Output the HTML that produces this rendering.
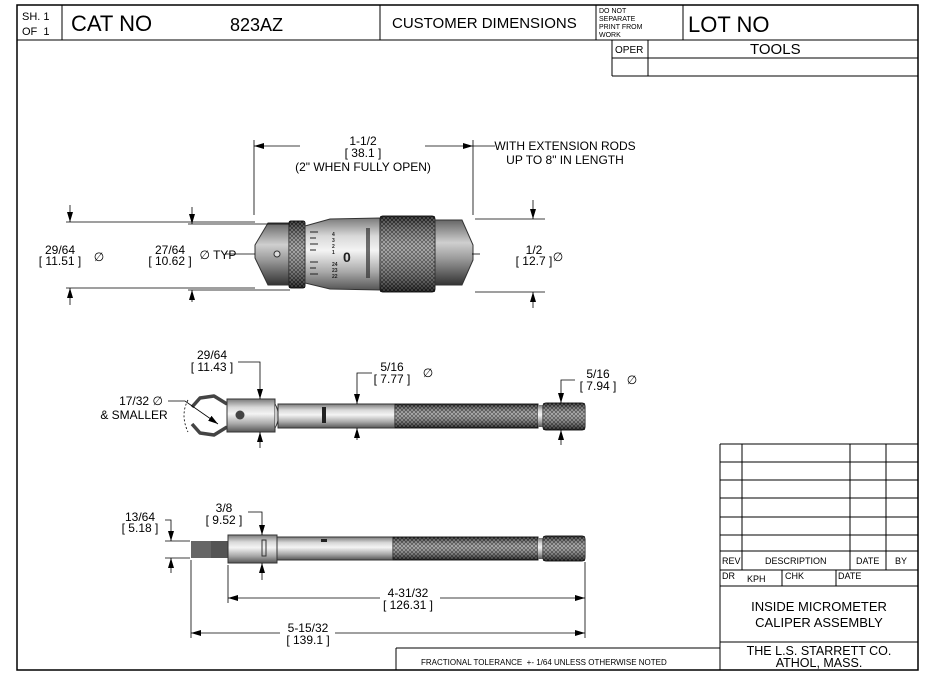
<!DOCTYPE html>
<html><head><meta charset="utf-8"><style>
html,body{margin:0;padding:0;background:#fff;}
svg{display:block;font-family:"Liberation Sans",sans-serif;}
</style></head><body>
<svg width="936" height="684" viewBox="0 0 936 684" xmlns="http://www.w3.org/2000/svg">
<defs>
<linearGradient id="cyl" x1="0" y1="0" x2="0" y2="1">
<stop offset="0" stop-color="#7a7a7a"/><stop offset="0.25" stop-color="#d8d8d8"/><stop offset="0.45" stop-color="#f4f4f4"/><stop offset="0.75" stop-color="#a8a8a8"/><stop offset="1" stop-color="#555"/>
</linearGradient>
<linearGradient id="cone" x1="0" y1="0" x2="0" y2="1">
<stop offset="0" stop-color="#666"/><stop offset="0.35" stop-color="#cfcfcf"/><stop offset="0.6" stop-color="#999"/><stop offset="1" stop-color="#333"/>
</linearGradient>
<pattern id="knurl" width="4" height="4" patternUnits="userSpaceOnUse">
<rect width="4" height="4" fill="#9a9a9a"/>
<path d="M0 0L4 4M4 0L0 4" stroke="#222" stroke-width="0.9"/>
</pattern>
<linearGradient id="kshade" x1="0" y1="0" x2="0" y2="1">
<stop offset="0" stop-color="#000" stop-opacity="0.5"/><stop offset="0.4" stop-color="#fff" stop-opacity="0.3"/><stop offset="1" stop-color="#000" stop-opacity="0.6"/>
</linearGradient>
<marker id="ar" markerWidth="10" markerHeight="6" refX="10" refY="3" orient="auto" markerUnits="userSpaceOnUse"><path d="M0 0L10 3L0 6z" fill="#000"/></marker>
</defs>
<g stroke="#000" fill="none" stroke-width="1">
<path d="M17 5H918V670H17Z" stroke-width="1.5"/>
<path d="M17 40H918M62 5V40M380 5V40M596 5V40M683 5V40"/>
<path d="M612 40V76M612 58H918M612 76H918M648 40V76"/>
<path d="M720 444H918M720 462H918M720 480H918M720 498H918M720 517H918M720 535H918M720 551H918M720 570H918M720 586H918M720 642H918"/>
<path d="M720 444V670M742 444V570M850 444V570M886 444V570M782 570V586M836 570V586"/>
<path d="M396 648H720M396 648V670"/>
</g>
<g font-size="11" fill="#000">
<text x="22" y="20">SH. 1</text><text x="22" y="35">OF&#160;&#160;1</text>
<text x="71" y="31" font-size="22">CAT NO</text>
<text x="230" y="31" font-size="18">823AZ</text>
<text x="392" y="28" font-size="15">CUSTOMER DIMENSIONS</text>
<text x="599" y="13" font-size="7">DO NOT</text><text x="599" y="21" font-size="7">SEPARATE</text><text x="599" y="29" font-size="7">PRINT FROM</text><text x="599" y="37" font-size="7">WORK</text>
<text x="688" y="32" font-size="22">LOT NO</text>
<text x="615" y="53" font-size="10">OPER</text>
<text x="750" y="54" font-size="15">TOOLS</text>
<text x="722" y="564" font-size="9">REV</text><text x="765" y="564" font-size="9">DESCRIPTION</text><text x="856" y="564" font-size="9">DATE</text><text x="895" y="564" font-size="9">BY</text>
<text x="722" y="579" font-size="9">DR</text><text x="747" y="582" font-size="9">KPH</text><text x="785" y="579" font-size="9">CHK</text><text x="838" y="579" font-size="9">DATE</text>
<text x="819" y="611" font-size="13" text-anchor="middle">INSIDE MICROMETER</text>
<text x="819" y="627" font-size="13" text-anchor="middle">CALIPER ASSEMBLY</text>
<text x="819" y="655" font-size="12.5" text-anchor="middle">THE L.S. STARRETT CO.</text>
<text x="819" y="667" font-size="12.5" text-anchor="middle">ATHOL, MASS.</text>
<text x="421" y="665" font-size="8">FRACTIONAL TOLERANCE&#160;&#160;+- 1/64 UNLESS OTHERWISE NOTED</text>
</g>
<g>
<path d="M268 223L255 245L255 258L268 285L290 285L290 223Z" fill="url(#cone)" stroke="#333"/>
<circle cx="277" cy="254" r="3" fill="#ddd" stroke="#333"/>
<rect x="289" y="221" width="16" height="67" rx="2" fill="url(#knurl)" stroke="#222"/>
<rect x="289" y="221" width="16" height="67" fill="url(#kshade)"/>
<path d="M305 226L330 219L380 218L380 290L330 289L305 283Z" fill="url(#cyl)" stroke="#333"/>
<g stroke="#222"><path d="M310 232h8M310 238h6M310 244h8M310 250h6M310 262h8M310 268h6M310 274h8"/></g>
<text x="343" y="262" font-size="14" font-weight="bold" fill="#222">0</text>
<g font-size="5" fill="#222" font-weight="bold"><text x="332" y="236">4</text><text x="332" y="242">3</text><text x="332" y="248">2</text><text x="332" y="254">1</text><text x="332" y="266">24</text><text x="332" y="272">23</text><text x="332" y="278">22</text></g>
<rect x="366" y="228" width="4" height="50" fill="#333" opacity="0.7"/>
<rect x="380" y="216" width="55" height="76" rx="3" fill="url(#knurl)" stroke="#222"/>
<rect x="380" y="216" width="55" height="76" fill="url(#kshade)"/>
<path d="M435 220L462 220L473 245L473 260L462 285L435 285Z" fill="url(#cone)" stroke="#333"/>
</g>
<g>
<path d="M227 404L214 396L200 398L192 407M227 427L214 435L200 433L192 424" stroke="#444" stroke-width="3.5" fill="none" stroke-linejoin="round"/>
<rect x="227" y="399" width="48" height="33" fill="url(#cyl)" stroke="#333"/>
<circle cx="240" cy="415" r="4.5" fill="#444"/>
<path d="M275 404Q282 416 275 428" fill="#ccc" stroke="#333"/>
<rect x="278" y="404" width="118" height="24" fill="url(#cyl)" stroke="#333"/>
<rect x="322" y="407" width="4" height="16" fill="#222"/>
<rect x="395" y="404" width="143" height="24" fill="url(#knurl)" stroke="#222"/>
<rect x="395" y="404" width="143" height="24" fill="url(#kshade)"/>
<rect x="538" y="405" width="5" height="22" fill="url(#cyl)"/>
<rect x="543" y="403" width="42" height="27" rx="3" fill="url(#knurl)" stroke="#222"/>
<rect x="543" y="403" width="42" height="27" fill="url(#kshade)"/>
</g>
<g>
<rect x="191" y="541" width="38" height="17" fill="#555"/>
<rect x="191" y="541" width="20" height="17" fill="#666"/>
<rect x="228" y="535" width="49" height="28" fill="url(#cyl)" stroke="#333"/>
<rect x="262" y="540" width="4" height="16" fill="none" stroke="#333"/>
<rect x="277" y="537" width="117" height="23" fill="url(#cyl)" stroke="#333"/>
<rect x="321" y="539" width="6" height="3" fill="#222"/>
<rect x="393" y="537" width="145" height="23" fill="url(#knurl)" stroke="#222"/>
<rect x="393" y="537" width="145" height="23" fill="url(#kshade)"/>
<rect x="538" y="538" width="5" height="21" fill="url(#cyl)"/>
<rect x="543" y="536" width="42" height="25" rx="3" fill="url(#knurl)" stroke="#222"/>
<rect x="543" y="536" width="42" height="25" fill="url(#kshade)"/>
</g>
<g stroke="#000" stroke-width="0.8" fill="none">
<path d="M254 140V215M473 140V215"/>
<path d="M300 146H254" marker-end="url(#ar)"/><path d="M425 146H473" marker-end="url(#ar)"/>
<path d="M473 146H495"/>
<path d="M66 222H255M188 224H290M66 288H255M188 290H290"/>
<path d="M70 205V222" marker-end="url(#ar)"/><path d="M70 305V288" marker-end="url(#ar)"/>
<path d="M192 207V224" marker-end="url(#ar)"/><path d="M192 302V290" marker-end="url(#ar)"/>
<path d="M225 254H255"/>
<path d="M475 219H545M475 292H545"/>
<path d="M533 200V219" marker-end="url(#ar)"/><path d="M533 308V292" marker-end="url(#ar)"/>
<path d="M472 254H480"/>
<path d="M238 362H260V399" marker-end="url(#ar)"/><path d="M260 448V432" marker-end="url(#ar)"/>
<path d="M372 373H357V404" marker-end="url(#ar)"/><path d="M357 440V428" marker-end="url(#ar)"/>
<path d="M575 380H561V403" marker-end="url(#ar)"/><path d="M561 445V430" marker-end="url(#ar)"/>
<path d="M168 401H185L218 424" marker-end="url(#ar)"/>
<path d="M188 400Q180 415 188 432" stroke-dasharray="2 2"/>
<path d="M165 520H171V541" marker-end="url(#ar)"/><path d="M171 573V558" marker-end="url(#ar)"/>
<path d="M165 541H190M165 558H190"/>
<path d="M248 512H262V535" marker-end="url(#ar)"/><path d="M262 580V563" marker-end="url(#ar)"/>
<path d="M228 565V603M191 560V638M585 562V638"/>
<path d="M380 598H228" marker-end="url(#ar)"/><path d="M440 598H585" marker-end="url(#ar)"/>
<path d="M280 633H191" marker-end="url(#ar)"/><path d="M335 633H585" marker-end="url(#ar)"/>
</g>
<g font-size="12" fill="#000" text-anchor="middle">
<text x="363" y="145">1-1/2</text><text x="363" y="157">[ 38.1 ]</text><text x="363" y="171">(2" WHEN FULLY OPEN)</text>
<text x="565" y="150">WITH EXTENSION RODS</text><text x="565" y="164">UP TO 8" IN LENGTH</text>
<text x="60" y="254">29/64</text><text x="60" y="265">[ 11.51 ]</text><text x="99" y="261">∅</text>
<text x="170" y="254">27/64</text><text x="170" y="265">[ 10.62 ]</text><text x="218" y="259">∅ TYP</text>
<text x="534" y="254">1/2</text><text x="534" y="265">[ 12.7 ]</text><text x="558" y="261">∅</text>
<text x="212" y="359">29/64</text><text x="212" y="371">[ 11.43 ]</text>
<text x="392" y="371">5/16</text><text x="392" y="383">[ 7.77 ]</text><text x="428" y="377">∅</text>
<text x="598" y="378">5/16</text><text x="598" y="390">[ 7.94 ]</text><text x="632" y="384">∅</text>
<text x="141" y="405">17/32 ∅</text><text x="134" y="419">&amp; SMALLER</text>
<text x="140" y="521">13/64</text><text x="140" y="532">[ 5.18 ]</text>
<text x="224" y="512">3/8</text><text x="224" y="524">[ 9.52 ]</text>
<text x="408" y="597">4-31/32</text><text x="408" y="609">[ 126.31 ]</text>
<text x="308" y="632">5-15/32</text><text x="308" y="644">[ 139.1 ]</text>
</g>
</svg>
</body></html>
